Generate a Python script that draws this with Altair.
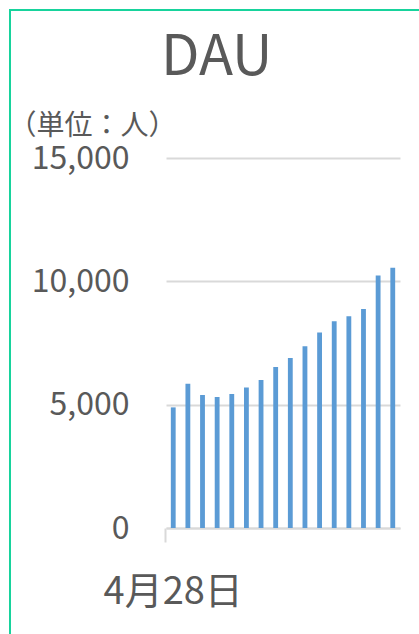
import altair as alt
import pandas as pd

dates = ["4月28日", "4月29日", "4月30日", "5月1日", "5月2日", "5月3日", "5月4日", "5月5日",
         "5月6日", "5月7日", "5月8日", "5月9日", "5月10日", "5月11日", "5月12日", "5月13日"]
dau = [4890, 5850, 5390, 5310, 5430, 5700, 6000, 6530,
       6890, 7370, 7930, 8380, 8580, 8880, 10240, 10550]
title_text = ["DAU"]

df = pd.DataFrame({"date": dates, "dau": dau})

FONT = "Noto Sans CJK JP"
GREY = "#595959"

L, T, W, H = 166, 158, 234, 370

bars = alt.Chart(df).mark_bar(color="#5b9bd5").encode(
    x=alt.X("date:N", sort=dates,
            scale=alt.Scale(paddingInner=0.67, paddingOuter=0.33),
            axis=alt.Axis(title=None, values=[dates[0]], bandPosition=-1,
                          domainColor="#d9d9d9", domainWidth=2,
                          tickColor="#d9d9d9", tickWidth=2, tickSize=14,
                          labelAngle=0, labelFont=FONT, labelFontSize=38,
                          labelColor=GREY, labelPadding=31,
                          labelAlign="center")),
    y=alt.Y("dau:Q",
            scale=alt.Scale(domain=[0, 15000], nice=False),
            axis=alt.Axis(values=[0, 5000, 10000, 15000], format=",d",
                          domain=False, ticks=False,
                          gridColor="#d9d9d9", gridWidth=2,
                          labelFont=FONT, labelFontSize=32, labelColor=GREY,
                          labelPadding=37,
                          title="（単位：人）", titleAngle=0, titleAlign="left",
                          titleBaseline="alphabetic", titleX=-158, titleY=-24,
                          titleFont=FONT, titleFontSize=28, titleFontWeight="normal",
                          titleColor=GREY)),
)

title = alt.Chart(pd.DataFrame({"t": title_text})).mark_text(
    font=FONT, fontSize=56, color=GREY, align="left", baseline="alphabetic"
).encode(text="t:N", x=alt.value(-5), y=alt.value(75 - T))

border_left = alt.Chart(df).mark_rule(color="#17d39c", strokeWidth=2).encode(
    x=alt.value(10 - L), y=alt.value(9 - T), y2=alt.value(634 - T + 10)
)
border_top = alt.Chart(df).mark_rule(color="#17d39c", strokeWidth=2).encode(
    x=alt.value(9 - L), x2=alt.value(419 - L + 10), y=alt.value(10 - T)
)

chart = alt.layer(bars, title, border_left, border_top).properties(
    width=W, height=H,
    autosize=alt.AutoSizeParams(type="none"),
    padding={"left": L, "top": T, "right": 419 - L - W, "bottom": 634 - T - H},
    background="white",
).configure_view(stroke=None)

chart.save("out.html", embed_options={"renderer": "svg", "actions": False})
